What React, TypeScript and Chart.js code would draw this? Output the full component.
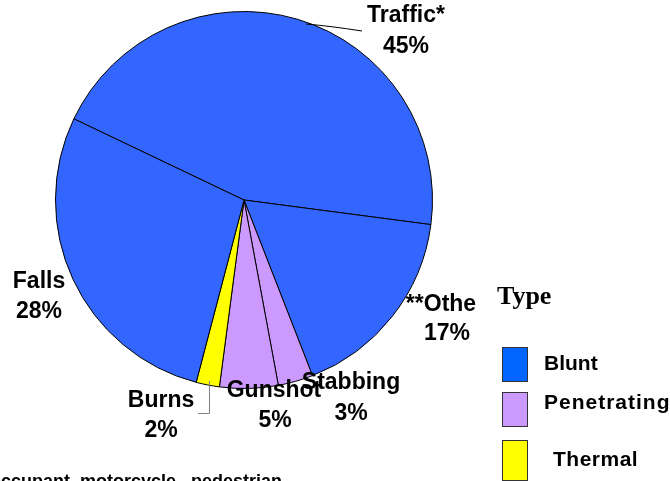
import React, { useEffect, useRef } from "react";
import { Chart, registerables } from "chart.js";

Chart.register(...registerables);

const categories = ["Traffic*", "**Othe", "Stabbing", "Gunshot", "Burns", "Falls"];
const values = [45, 17, 3, 5, 2, 28];
const types = ["Blunt", "Blunt", "Penetrating", "Penetrating", "Thermal", "Blunt"];
const legendTypes = ["Blunt", "Penetrating", "Thermal"];
const footnote = "occupant, motorcycle,  pedestrian";

const typeColors: Record<string, string> = {
  Blunt: "#3366FF",
  Penetrating: "#CC99FF",
  Thermal: "#FFFF00",
};
const legendColors: Record<string, string> = {
  Blunt: "#0066FF",
  Penetrating: "#CC99FF",
  Thermal: "#FFFF00",
};

// label placement (name center, percent center)
const labelPlacement: Record<string, { x: number; y: number; px: number; py: number }> = {
  "Traffic*": { x: 406, y: 16, px: 406, py: 47 },
  "**Othe": { x: 441, y: 305, px: 447, py: 334 },
  Stabbing: { x: 351, y: 383, px: 351, py: 414 },
  Gunshot: { x: 274, y: 391, px: 275, py: 421 },
  Burns: { x: 161, y: 401, px: 161, py: 431 },
  Falls: { x: 39, y: 282, px: 39, py: 312 },
};

const overlayPlugin = {
  id: "overlay",
  afterDraw(chart: any) {
    const ctx = chart.ctx;
    ctx.save();
    // leader lines
    ctx.strokeStyle = "#000";
    ctx.lineWidth = 1;
    ctx.beginPath();
    ctx.moveTo(306, 24);
    ctx.quadraticCurveTo(330, 26, 362, 31);
    ctx.stroke();
    ctx.strokeStyle = "#808080";
    ctx.beginPath();
    ctx.moveTo(209.5, 381);
    ctx.lineTo(209.5, 413.5);
    ctx.lineTo(198, 413.5);
    ctx.stroke();

    // slice labels
    ctx.fillStyle = "#000";
    ctx.textAlign = "center";
    ctx.textBaseline = "middle";
    ctx.font = "bold 23px 'Liberation Sans', Arial, sans-serif";
    categories.forEach((c, i) => {
      const p = labelPlacement[c];
      ctx.fillText(c, p.x, p.y);
      ctx.fillText(values[i] + "%", p.px, p.py);
    });

    // legend
    ctx.textAlign = "left";
    ctx.font = "bold 26px 'Liberation Serif', 'Times New Roman', serif";
    ctx.textBaseline = "alphabetic";
    ctx.fillText("Type", 497, 304);
    const boxYs = [347, 392, 440];
    const boxHs = [34, 34, 40];
    const textYs = [364, 403, 460];
    const textXs = [544, 544, 553];
    const spacing = ["0px", "1px", "0.5px"];
    ctx.font = "bold 21px 'Liberation Sans', Arial, sans-serif";
    ctx.textBaseline = "middle";
    legendTypes.forEach((t, i) => {
      ctx.fillStyle = legendColors[t];
      ctx.fillRect(502, boxYs[i], 25, boxHs[i]);
      ctx.strokeStyle = "#333";
      ctx.lineWidth = 1;
      ctx.strokeRect(502.5, boxYs[i] + 0.5, 25, boxHs[i]);
      ctx.fillStyle = "#000";
      (ctx as any).letterSpacing = spacing[i];
      ctx.fillText(t, textXs[i], textYs[i]);
    });
    (ctx as any).letterSpacing = "0px";

    // footnote
    ctx.font = "bold 18px 'Liberation Sans', Arial, sans-serif";
    ctx.textBaseline = "alphabetic";
    ctx.fillText(footnote, -10, 487);
    ctx.restore();
  },
};

export default function App() {
  const ref = useRef<HTMLCanvasElement>(null);
  useEffect(() => {
    if (!ref.current) return;
    const chart = new Chart(ref.current, {
      type: "pie",
      data: {
        labels: categories,
        datasets: [
          {
            data: values,
            backgroundColor: types.map((t) => typeColors[t]),
            borderColor: "#000",
            borderWidth: 1,
          },
        ],
      },
      options: {
        responsive: false,
        animation: false,
        devicePixelRatio: 1,
        rotation: -64.5,
        layout: { padding: { left: 55, right: 237, top: 11, bottom: 92 } },
        plugins: {
          legend: { display: false },
          tooltip: { enabled: false },
        },
      },
      plugins: [overlayPlugin],
    });
    return () => chart.destroy();
  }, []);
  return (
    <div style={{ position: "absolute", left: 0, top: 0, width: 670, height: 481, background: "#fff" }}>
      <canvas ref={ref} width={670} height={481} style={{ width: 670, height: 481 }} />
    </div>
  );
}
